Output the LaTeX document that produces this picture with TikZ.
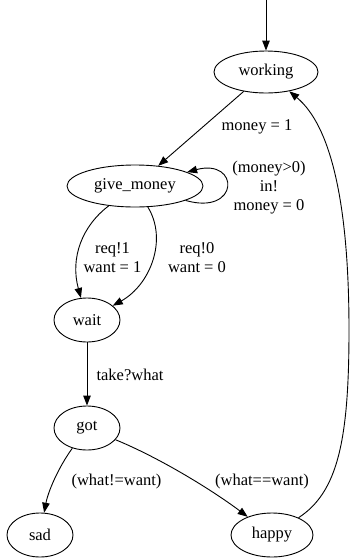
\documentclass[tikz,border=0pt]{standalone}
\usepackage{fontspec}
\setmainfont{Liberation Serif}
\usetikzlibrary{shapes.geometric,arrows.meta}
\begin{document}
\begin{tikzpicture}[x=1pt,y=-1pt,
  state/.style={draw,ellipse,inner sep=0pt,line width=0.9pt,font=\fontsize{16.5}{19}\selectfont},
  edge/.style={draw,line width=0.9pt,-{Triangle[length=10pt,width=7.5pt]}},
  lbl/.style={align=center,inner sep=0pt,font=\fontsize{16.5}{19}\selectfont}]
\useasboundingbox (0,0) rectangle (350,558);
\node[state,minimum width=104pt,minimum height=42pt] (working) at (266,72) {working};
\node[state,minimum width=136pt,minimum height=42pt] (gm) at (135,186) {give\_money};
\node[state,minimum width=66pt,minimum height=44pt] (wait) at (87,320) {wait};
\node[state,minimum width=66pt,minimum height=44pt] (got) at (87,428) {got};
\node[state,minimum width=66pt,minimum height=44pt] (sad) at (40,535) {sad};
\node[state,minimum width=82pt,minimum height=44pt] (happy) at (272,535) {happy};
\coordinate (start) at (266,0);
\draw[edge] (start) -- (working);
\draw[edge] (working) -- (gm);
\draw[edge] (gm) .. controls (240,216) and (240,158) .. (gm);
\draw[edge] (gm) .. controls (82,226) and (70,258) .. (wait);
\draw[edge] (gm) .. controls (168,240) and (150,285) .. (wait);
\draw[edge] (wait) -- (got);
\draw[edge] (got) .. controls (58,468) and (48,492) .. (sad);
\draw[edge] (got) .. controls (160,458) and (212,490) .. (happy);
\draw[edge] (happy) .. controls (338,492) and (349,440) .. (349,330) .. controls (349,200) and (330,125) .. (working);
\node[lbl] (l1) at (257,127) {money = 1};
\node[lbl] (l2) at (269,188) {(money>0)\\in!\\money = 0};
\node[lbl] (l3) at (112.5,258) {req!1\\want = 1};
\node[lbl] (l4) at (197,258) {req!0\\want = 0};
\node[lbl] (l5) at (130,375) {take?what};
\node[lbl] (l6) at (116.5,482) {(what!=want)};
\node[lbl] (l7) at (262,482) {(what==want)};
\end{tikzpicture}
\end{document}
